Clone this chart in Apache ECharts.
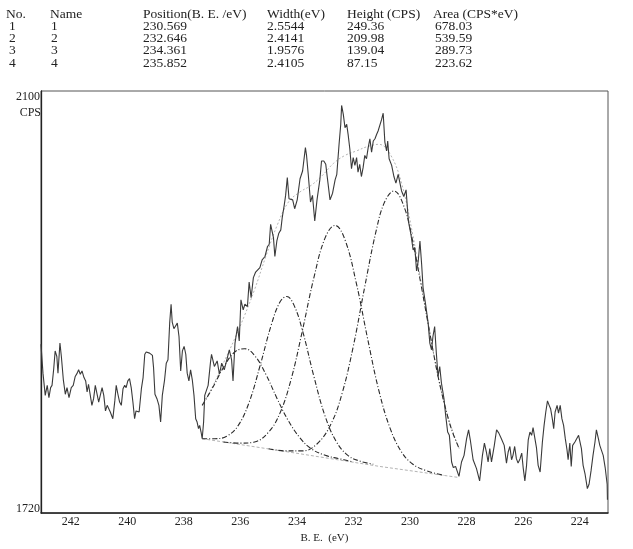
<!DOCTYPE html>
<html>
<head>
<meta charset="utf-8">
<script src="https://cdn.jsdelivr.net/npm/echarts@6/dist/echarts.min.js"></script>
<style>
  html, body { margin: 0; padding: 0; background: #fff; }
  #chart { width: 633px; height: 549px; }
</style>
</head>
<body>
<div id="chart"></div>
<script>
// fit table
var tableHeaders = ['No.', 'Name', 'Position(B. E. /eV)', 'Width(eV)', 'Height (CPS)', 'Area (CPS*eV)'];
var peakNo = ['1', '2', '3', '4'];
var peakName = ['1', '2', '3', '4'];
var peakPosition = ['230.569', '232.646', '234.361', '235.852'];
var peakWidth = ['2.5544', '2.4141', '1.9576', '2.4105'];
var peakHeight = ['249.36', '209.98', '139.04', '87.15'];
var peakArea = ['678.03', '539.59', '289.73', '223.62'];

// axis ticks
var xTicks = [242, 240, 238, 236, 234, 232, 230, 228, 226, 224];
var yTicks = [1720, 2100];

// measured spectrum [B.E. eV, CPS]
var spectrum = [
  [243.05,1872],[242.98,1846],[242.90,1826],[242.83,1835],[242.77,1824],[242.71,1833],[242.66,1835],[242.60,1850],
  [242.55,1866],[242.49,1861],[242.45,1846],[242.38,1873],[242.33,1861],[242.26,1840],[242.19,1827],[242.13,1833],
  [242.06,1824],[241.98,1833],[241.91,1835],[241.84,1843],[241.77,1846],[241.72,1849],[241.66,1845],[241.60,1848],
  [241.53,1842],[241.47,1839],[241.42,1829],[241.37,1836],[241.31,1835],[241.25,1817],[241.19,1823],[241.13,1835],
  [241.07,1836],[241.01,1820],[240.95,1820],[240.89,1833],[240.83,1826],[240.77,1812],[240.71,1817],[240.65,1818],
  [240.60,1811],[240.51,1805],[240.44,1821],[240.39,1835],[240.33,1827],[240.27,1820],[240.21,1817],[240.15,1832],
  [240.09,1835],[240.04,1833],[239.98,1839],[239.92,1841],[239.86,1833],[239.80,1820],[239.74,1805],[239.69,1812],
  [239.58,1811],[239.50,1832],[239.44,1842],[239.38,1863],[239.33,1865],[239.21,1864],[239.11,1862],[239.07,1851],
  [239.02,1827],[238.95,1823],[238.88,1817],[238.82,1802],[238.76,1826],[238.68,1840],[238.62,1855],[238.56,1858],
  [238.50,1891],[238.45,1908],[238.41,1892],[238.35,1886],[238.28,1885],[238.23,1891],[238.17,1879],[238.11,1848],
  [238.05,1866],[237.99,1870],[237.93,1863],[237.88,1846],[237.82,1839],[237.76,1849],[237.70,1840],[237.64,1826],
  [237.58,1805],[237.53,1802],[237.48,1796],[237.44,1799],[237.39,1793],[237.35,1787],[237.30,1802],[237.26,1826],
  [237.14,1835],[237.06,1855],[237.02,1863],[236.92,1852],[236.82,1857],[236.74,1845],[236.66,1855],[236.57,1849],
  [236.48,1858],[236.39,1867],[236.31,1858],[236.26,1839],[236.19,1873],[236.10,1888],[236.04,1875],[235.98,1912],
  [235.90,1903],[235.84,1908],[235.75,1906],[235.69,1928],[235.62,1914],[235.54,1932],[235.46,1937],[235.39,1937],
  [235.31,1941],[235.23,1948],[235.13,1951],[235.04,1960],[234.98,1962],[234.93,1980],[234.83,1968],[234.78,1951],
  [234.71,1965],[234.64,1972],[234.57,1975],[234.52,1986],[234.45,1997],[234.40,2006],[234.34,2022],[234.28,2003],
  [234.15,2002],[234.08,1994],[233.99,2002],[233.89,2021],[233.80,2028],[233.70,2049],[233.66,2042],[233.60,2025],
  [233.52,2000],[233.45,2006],[233.37,1983],[233.29,2002],[233.19,2020],[233.13,2037],[233.05,2037],[232.98,2034],
  [232.93,2023],[232.83,2002],[232.74,2008],[232.65,2020],[232.59,2025],[232.51,2052],[232.45,2070],[232.42,2087],
  [232.36,2079],[232.30,2067],[232.24,2070],[232.19,2061],[232.13,2048],[232.07,2030],[232.01,2040],[231.95,2033],
  [231.89,2040],[231.84,2027],[231.78,2034],[231.72,2023],[231.66,2031],[231.60,2042],[231.54,2039],[231.48,2049],
  [231.42,2057],[231.36,2045],[231.30,2055],[231.24,2057],[231.18,2061],[231.13,2064],[231.07,2064],[231.01,2074],
  [230.95,2080],[230.89,2054],[230.83,2046],[230.79,2055],[230.74,2039],[230.65,2033],[230.57,2023],[230.50,2017],
  [230.42,2025],[230.30,2010],[230.22,2005],[230.14,2011],[230.10,1997],[230.06,1983],[229.97,1971],[229.89,1957],
  [229.83,1959],[229.77,1938],[229.71,1947],[229.65,1965],[229.59,1944],[229.54,1923],[229.45,1908],[229.36,1891],
  [229.30,1873],[229.24,1867],[229.19,1879],[229.13,1888],[229.07,1864],[229.01,1843],[228.95,1852],[228.89,1837],
  [228.80,1823],[228.74,1808],[228.67,1793],[228.61,1790],[228.53,1766],[228.47,1761],[228.39,1762],[228.32,1761],
  [228.27,1753],[228.18,1766],[228.09,1772],[228.00,1787],[227.93,1795],[227.87,1786],[227.77,1768],[227.65,1760],
  [227.54,1749],[227.44,1772],[227.37,1783],[227.30,1775],[227.24,1766],[227.18,1778],[227.12,1766],[227.02,1781],
  [226.94,1795],[226.86,1792],[226.77,1787],[226.67,1781],[226.59,1765],[226.53,1775],[226.47,1780],[226.41,1768],
  [226.36,1772],[226.30,1780],[226.24,1769],[226.18,1765],[226.11,1769],[226.05,1774],[226.00,1761],[225.94,1749],
  [225.88,1763],[225.82,1786],[225.76,1793],[225.70,1790],[225.65,1797],[225.59,1797],[225.53,1779],[225.47,1763],
  [225.40,1757],[225.32,1784],[225.26,1799],[225.20,1811],[225.14,1821],[225.08,1817],[225.03,1814],[224.97,1805],
  [224.92,1796],[224.87,1811],[224.80,1817],[224.75,1810],[224.69,1817],[224.63,1805],[224.57,1799],[224.51,1787],
  [224.45,1777],[224.41,1768],[224.35,1783],[224.30,1762],[224.25,1781],[224.17,1784],[224.11,1783],[224.04,1790],
  [224.00,1789],[223.94,1778],[223.88,1763],[223.81,1755],[223.73,1742],[223.67,1746],[223.60,1758],[223.53,1772],
  [223.46,1784],[223.41,1795],[223.34,1787],[223.29,1781],[223.23,1780],[223.17,1772],[223.10,1761],[223.03,1746],
  [223.02,1732]
];

// background line under the fitted region
var background = [[237.35,1787],[234.04,1774],[231.07,1762],[228.26,1752]];

// fitted component curves
var peak1 = [[235.0,1778],[234.4,1776],[233.8,1776],[233.3,1782],[232.8,1800],[232.4,1828],[232.0,1871],[231.6,1924],
  [231.2,1974],[230.9,2000],[230.57,2010],[230.2,1995],[229.9,1964],[229.6,1924],[229.3,1882],[229.0,1842],
  [228.7,1810],[228.5,1793],[228.26,1778]];
var peak2 = [[236.6,1784],[236.0,1783],[235.5,1784],[235.0,1793],[234.6,1810],[234.2,1841],[233.8,1885],[233.4,1932],
  [233.0,1968],[232.65,1979],[232.3,1966],[231.9,1927],[231.5,1877],[231.1,1830],[230.7,1796],[230.3,1775],
  [229.9,1764],[229.4,1758],[228.8,1754]];
var peak3 = [[237.35,1787],[236.9,1787],[236.5,1789],[236.1,1798],[235.7,1819],[235.3,1853],[234.9,1890],[234.6,1910],
  [234.36,1915],[234.1,1907],[233.8,1884],[233.4,1843],[233.0,1807],[232.6,1784],[232.2,1772],[231.8,1767],[231.3,1764]];
var peak4 = [[237.35,1817],[237.0,1832],[236.6,1851],[236.2,1865],[235.85,1868],[235.5,1862],[235.1,1845],[234.7,1823],
  [234.3,1803],[233.9,1788],[233.5,1778],[233.0,1772],[232.5,1769],[232.0,1766]];
var envelope = [[237.35,1817],[237.0,1833],[236.6,1855],[236.2,1877],[235.85,1898],[235.5,1921],[235.1,1951],[234.7,1979],
  [234.3,2000],[233.9,2009],[233.5,2015],[233.1,2024],[232.7,2035],[232.3,2042],[231.9,2046],[231.5,2050],
  [231.1,2052],[230.7,2043],[230.3,2017],[229.9,1970],[229.5,1912],[229.1,1855],[228.7,1810],[228.26,1778]];

var font = "'Liberation Serif', serif";
var ink = '#222';

// table as graphic text
var colX = [6, 50, 143, 267, 347, 433];
var valX = [9, 51, 143, 267, 347, 435];
var rowY = [15, 27, 39.5, 51.5, 64];
var graphics = [];
function addText(x, y, s) {
  graphics.push({
    type: 'text', left: x, top: y - 8,
    style: { text: s, fontFamily: font, fontSize: 13.5, fill: ink }
  });
}
tableHeaders.forEach(function (h, i) { addText(colX[i], rowY[0], h); });
var cols = [peakNo, peakName, peakPosition, peakWidth, peakHeight, peakArea];
cols.forEach(function (col, i) {
  col.forEach(function (v, r) { addText(valX[i], rowY[r + 1], v); });
});

function comp(data) {
  return {
    type: 'line', data: data, showSymbol: false, smooth: 0.4,
    lineStyle: { color: '#2a2a2a', width: 1.1, type: [5, 2, 1, 2] }, z: 3
  };
}

var chart = echarts.init(document.getElementById('chart'), null, { renderer: 'canvas' });
chart.setOption({
  animation: false,
  backgroundColor: '#fff',
  grid: { left: 41, right: 25, top: 91, bottom: 30, show: true, borderColor: '#555', borderWidth: 1 },
  graphic: graphics,
  xAxis: {
    type: 'value', inverse: true, min: 223.0, max: 243.05,
    axisLine: { show: true, lineStyle: { color: '#222', width: 1.5 } },
    axisTick: { show: false, customValues: xTicks },
    splitLine: { show: false },
    axisLabel: {
      customValues: xTicks, margin: 3, color: ink, fontFamily: font, fontSize: 12,
      formatter: function (v) { return xTicks.indexOf(v) >= 0 ? String(v) : ''; }
    },
    name: 'B. E.  (eV)', nameLocation: 'middle', nameGap: 19,
    nameTextStyle: { color: ink, fontFamily: font, fontSize: 11 }
  },
  yAxis: {
    type: 'value', min: 1720, max: 2100,
    axisLine: { show: true, lineStyle: { color: '#222', width: 1.3 } },
    axisTick: { show: false, customValues: yTicks },
    splitLine: { show: false },
    axisLabel: {
      customValues: yTicks, margin: 1, color: ink, fontFamily: font, fontSize: 12,
      formatter: function (v) {
        if (v === 2100) return '{t|2100}';
        if (v === 1720) return '{b|1720}';
        return '';
      },
      rich: {
        t: { padding: [12, 0, 0, 0], color: ink, fontFamily: font, fontSize: 12 },
        b: { padding: [0, 0, 8, 0], color: ink, fontFamily: font, fontSize: 12 }
      }
    },
    name: 'CPS', nameLocation: 'end', nameGap: -22,
    nameTextStyle: { align: 'right', verticalAlign: 'middle', color: ink, fontFamily: font, fontSize: 12 }
  },
  series: [
    { type: 'line', data: background, showSymbol: false,
      lineStyle: { color: '#aaa', width: 0.9, type: [3, 2] }, z: 2 },
    { type: 'line', data: envelope, showSymbol: false, smooth: 0.4,
      lineStyle: { color: '#b5b5b5', width: 1, type: [2, 2] }, z: 2 },
    comp(peak1), comp(peak2), comp(peak3), comp(peak4),
    { type: 'line', data: spectrum, showSymbol: false,
      lineStyle: { color: '#3a3a3a', width: 1.1 }, z: 4 }
  ]
});
</script>
</body>
</html>
